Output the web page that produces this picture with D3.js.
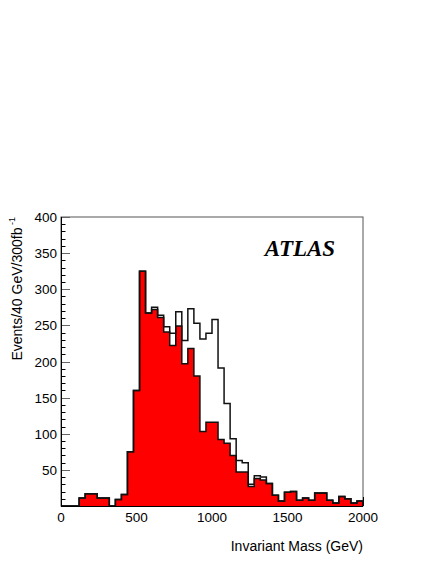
<!DOCTYPE html>
<html>
<head>
<meta charset="utf-8">
<script src="https://cdn.jsdelivr.net/npm/d3@7"></script>
<style>
  body { margin: 0; background: #fff; }
  svg { display: block; }
  text { font-family: "Liberation Sans", Arial, Helvetica, sans-serif; fill: #000; }
</style>
</head>
<body>
<div id="chart"></div>
<script>
// Histogramm: 50 Bins zu je 40 GeV, 0..2000 GeV
const binWidth = 40;
const massMin = 0;
const massMax = 2000;

// Offenes Histogramm (schwarze Linie)
const totalCounts = [
  0, 0, 0, 11, 17, 17, 11, 11, 0, 9,
  16, 75, 160, 325, 267, 275, 264, 248, 239, 269,
  229, 273, 253, 231, 239, 258, 191, 142, 93, 63,
  60, 30, 42, 40, 31, 15, 7, 19, 20, 8,
  11, 8, 18, 18, 8, 4, 13, 10, 4, 7
];

// Gefülltes Histogramm (rot)
const redCounts = [
  0, 0, 0, 11, 17, 17, 11, 11, 0, 9,
  16, 75, 160, 325, 267, 272, 261, 241, 222, 249,
  197, 218, 180, 103, 116, 116, 92, 87, 70, 47,
  47, 27, 38, 36, 31, 15, 7, 19, 20, 8,
  11, 8, 18, 18, 8, 4, 13, 10, 4, 7
];

const xTickValues = [0, 500, 1000, 1500, 2000];
const yTickValues = [50, 100, 150, 200, 250, 300, 350, 400];
const yMinorStep = 10;

const width = 436, height = 564;
const frame = { left: 61, right: 363, top: 217, bottom: 506 };

const svg = d3.select("#chart").append("svg")
  .attr("width", width)
  .attr("height", height);

const x = d3.scaleLinear().domain([massMin, massMax]).range([frame.left, frame.right]);
const y = d3.scaleLinear().domain([0, 400]).range([frame.bottom, frame.top]);

// Punkte für Stufenlinie aufbauen
function stepPoints(counts) {
  const pts = [{ m: massMin, v: 0 }];
  counts.forEach((c, i) => pts.push({ m: massMin + i * binWidth, v: c }));
  pts.push({ m: massMax, v: counts[counts.length - 1] });
  pts.push({ m: massMax, v: 0 });
  return pts;
}

const line = d3.line()
  .x(d => x(d.m))
  .y(d => y(d.v))
  .curve(d3.curveStepAfter);

const area = d3.area()
  .x(d => x(d.m))
  .y0(y(0))
  .y1(d => y(d.v))
  .curve(d3.curveStepAfter);

// Rahmen
svg.append("rect")
  .attr("x", frame.left)
  .attr("y", frame.top)
  .attr("width", frame.right - frame.left)
  .attr("height", frame.bottom - frame.top)
  .attr("fill", "none")
  .attr("stroke", "#555")
  .attr("stroke-width", 1);

// Y-Achse: kleine Ticks nach innen
const yMinor = d3.range(0, 401, yMinorStep);
svg.append("g").selectAll("line")
  .data(yMinor)
  .join("line")
  .attr("x1", frame.left)
  .attr("x2", d => frame.left + (d % 50 === 0 ? 9 : 4.5))
  .attr("y1", d => Math.round(y(d)) + 0.5)
  .attr("y2", d => Math.round(y(d)) + 0.5)
  .attr("stroke", d => (d % 50 === 0 ? "#666" : "#000"))
  .attr("stroke-width", 1);

// X-Achse Ticks
svg.append("g").selectAll("line")
  .data(xTickValues)
  .join("line")
  .attr("x1", d => Math.round(x(d)) + 0.5)
  .attr("x2", d => Math.round(x(d)) + 0.5)
  .attr("y1", frame.bottom)
  .attr("y2", frame.bottom - 9)
  .attr("stroke", "#000");

// Histogramme
svg.append("path")
  .datum(stepPoints(redCounts))
  .attr("d", area)
  .attr("fill", "#ff0000");

svg.append("path")
  .datum(stepPoints(redCounts))
  .attr("d", line)
  .attr("fill", "none")
  .attr("stroke", "#111")
  .attr("stroke-width", 1.5);

svg.append("path")
  .datum(stepPoints(totalCounts))
  .attr("d", line)
  .attr("fill", "none")
  .attr("stroke", "#111")
  .attr("stroke-width", 1.5);

// Achsenlinien
svg.append("line")
  .attr("x1", frame.left + 0.5).attr("x2", frame.left + 0.5)
  .attr("y1", frame.top).attr("y2", frame.bottom)
  .attr("stroke", "#000");
svg.append("line")
  .attr("x1", frame.left).attr("x2", frame.right)
  .attr("y1", frame.bottom + 0.5).attr("y2", frame.bottom + 0.5)
  .attr("stroke", "#000");

// Beschriftungen
svg.append("g").selectAll("text")
  .data(yTickValues)
  .join("text")
  .attr("x", frame.left - 4)
  .attr("y", d => y(d) + 5)
  .attr("text-anchor", "end")
  .style("font-size", "13.5px")
  .text(d => d);

svg.append("g").selectAll("text")
  .data(xTickValues)
  .join("text")
  .attr("x", d => x(d))
  .attr("y", frame.bottom + 16)
  .attr("text-anchor", "middle")
  .style("font-size", "13.5px")
  .text(d => d);

svg.append("text")
  .attr("x", frame.right)
  .attr("y", 551)
  .attr("text-anchor", "end")
  .style("font-size", "14px")
  .text("Invariant Mass (GeV)");

const yTitle = svg.append("text")
  .attr("transform", `translate(22,${frame.top}) rotate(-90)`)
  .attr("text-anchor", "end")
  .style("font-size", "14px");
yTitle.append("tspan").text("Events/40 GeV/300fb");
yTitle.append("tspan")
  .attr("dy", -7)
  .style("font-size", "9px")
  .text(" -1");

svg.append("text")
  .attr("x", 300)
  .attr("y", 256)
  .attr("text-anchor", "middle")
  .style("font-family", "'Liberation Serif', 'Times New Roman', serif")
  .style("font-weight", "bold")
  .style("font-style", "italic")
  .style("font-size", "23px")
  .text("ATLAS");
</script>
</body>
</html>
